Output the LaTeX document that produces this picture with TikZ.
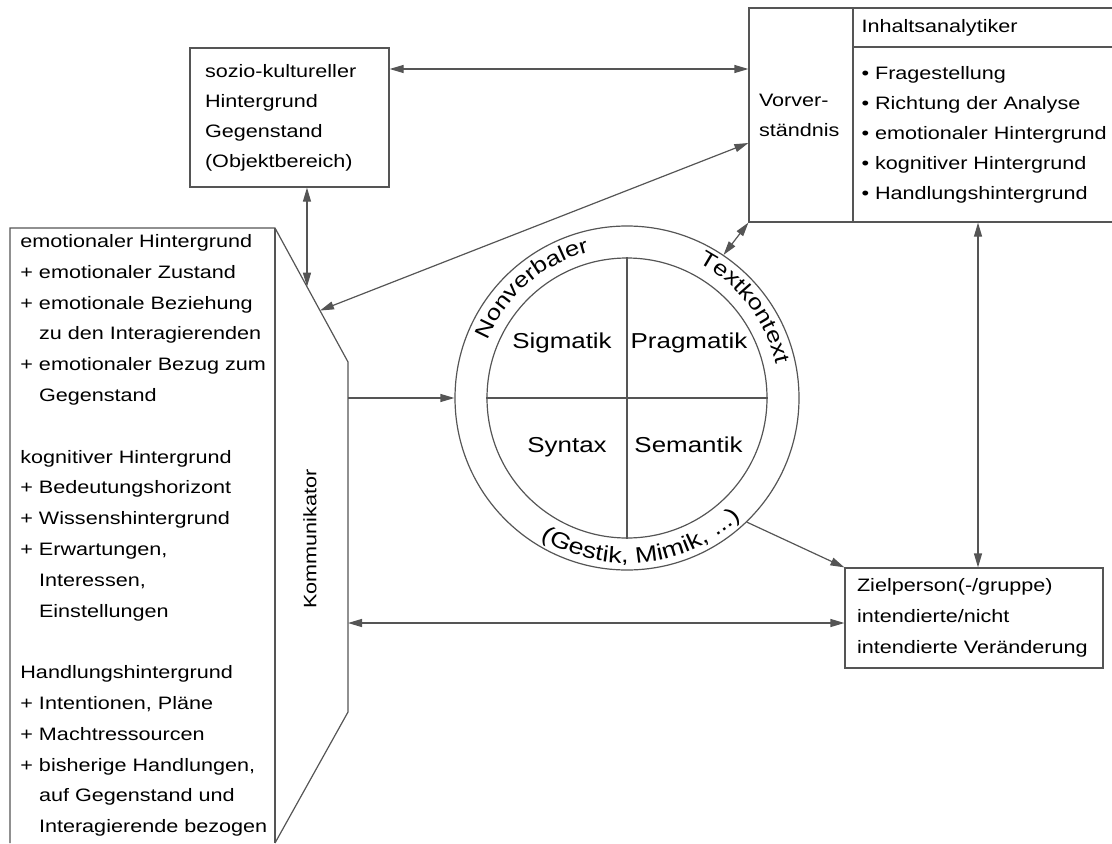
\documentclass[tikz,border=0pt]{standalone}
\usepackage{fontspec}
\setmainfont{Liberation Sans}[FakeStretch=1.2]
\usetikzlibrary{positioning,arrows.meta,calc,decorations.text}
\definecolor{liniengrau}{HTML}{555555}
\newcommand\weiter{\hphantom{+}\ }
\newcommand\bogenschrift{\fontsize{10.7}{12}\selectfont}
\newcommand\bogenunten{\fontsize{11.2}{12}\selectfont}

\begin{document}
\begin{tikzpicture}[x=0.5pt, y=0.5pt, >={Triangle[length=7pt,width=4pt]},
    linie/.style={draw=liniengrau, line width=0.6pt},
    kasten/.style={linie, rectangle, inner sep=0pt, align=left,
      font=\fontsize{9}{15}\selectfont},
    pfeil/.style={linie, ->},
    doppelpfeil/.style={linie, <->},
    feld/.style={anchor=base, font=\fontsize{10.8}{13}\selectfont},
    ring/.style={decorate, decoration={text along path, text align=center,
      text={#1}}}]
  \useasboundingbox (0,0) rectangle (1112,843);

  % Kommunikator
  \coordinate (ko1) at (10,0);
  \coordinate (ko2) at (10,615);
  \coordinate (ko3) at (275,615);
  \coordinate (ko4) at (348,481);
  \coordinate (ko5) at (348,131);
  \coordinate (ko6) at (275,0);
  \draw[linie] (ko1) -- (ko2) -- (ko3) -- (ko4) -- (ko5) -- (ko6);
  \draw[linie] (ko3) -- (ko6);
  \node (hinter) [anchor=north west, inner sep=0pt, text width=132pt,
                  align=left, font=\fontsize{9}{15.4}\selectfont]
    at (20,609)
    {emotionaler Hintergrund\\
     + emotionaler Zustand\\
     + emotionale Beziehung\\
     \weiter zu den Interagierenden\\
     + emotionaler Bezug zum\\
     \weiter Gegenstand\\[15.4pt]
     kognitiver Hintergrund\\
     + Bedeutungshorizont\\
     + Wissenshintergrund\\
     + Erwartungen,\\
     \weiter Interessen,\\
     \weiter Einstellungen\\[15.4pt]
     Handlungshintergrund\\
     + Intentionen, Pläne\\
     + Machtressourcen\\
     + bisherige Handlungen,\\
     \weiter auf Gegenstand und\\
     \weiter Interagierende bezogen};
  \node (komm) [rotate=90, font=\fontsize{9}{11}\selectfont] at (310,304)
    {Kommunikator};

  % Kaesten oben und rechts
  \node (sozio) [kasten, minimum width=99.5pt, minimum height=69.5pt,
                 text width=84.5pt, inner xsep=7.5pt] at (289.5,725.5)
    {sozio-kultureller\\Hintergrund\\Gegenstand\\(Objektbereich)};
  \node (vorv) [kasten, minimum width=52pt, minimum height=107pt,
                text width=42pt, inner xsep=5pt] at (801,728)
    {Vorver-\\ständnis};
  \node (kopf) [kasten, minimum width=133.5pt, minimum height=19.5pt,
                text width=125pt, inner xsep=4.25pt] at (986.5,815.5)
    {Inhaltsanalytiker};
  \node (liste) [kasten, minimum width=133.5pt, minimum height=87.5pt,
                 text width=125pt, inner xsep=4.25pt] at (986.5,708.5)
    {\textbullet\ Fragestellung\\
     \textbullet\ Richtung der Analyse\\
     \textbullet\ emotionaler Hintergrund\\
     \textbullet\ kognitiver Hintergrund\\
     \textbullet\ Handlungshintergrund\\[3pt]};
  \node (ziel) [kasten, minimum width=129pt, minimum height=50pt,
                text width=117pt, font=\fontsize{9}{15.5}\selectfont]
    at (974,225)
    {Zielperson(-/gruppe)\\intendierte/nicht\\intendierte Veränderung};

  % Kreis mit vier Feldern
  \node (kreis) [circle, linie, minimum size=172pt, inner sep=0pt]
    at (627,445) {};
  \node (innen) [circle, linie, minimum size=140pt, inner sep=0pt]
    at (kreis.center) {};
  \draw[linie] (innen.north) -- (innen.south);
  \draw[linie] (innen.west) -- (innen.east);
  \node (sigmatik) [feld] at (562,494.5) {Sigmatik};
  \node (pragmatik) [feld] at (689,494.5) {Pragmatik};
  \node (syntax) [feld] at (567,390.5) {Syntax};
  \node (semantik) [feld] at (688.5,390.5) {Semantik};
  \path[ring={|\bogenschrift|Nonverbaler}]
    ($(kreis.center)+(176:75.5pt)$) arc[start angle=176, end angle=86,
    radius=75.5pt];
  \path[ring={|\bogenschrift|Textkontext}]
    ($(kreis.center)+(82.5:76.5pt)$) arc[start angle=82.5, end angle=-7.5,
    radius=76.5pt];
  \path[ring={|\bogenunten|(Gestik, Mimik, ...)}]
    ($(kreis.center)+(226:82.5pt)$) arc[start angle=226, end angle=326,
    radius=82.5pt];

  % Verbindungen
  \coordinate (kd1) at ($(ko3)!0.438!(ko4)$);
  \coordinate (kd2) at ($(ko3)!0.616!(ko4)$);
  \coordinate (kk1) at (348,445);
  \coordinate (kk2) at (348,220);
  \draw[doppelpfeil] ([yshift=24.25pt]sozio.east)
    -- ([yshift=24.25pt]sozio.east -| vorv.west);
  \draw[doppelpfeil] (kd1 |- sozio.south) -- (kd1);
  \draw[doppelpfeil] ([yshift=-14pt]vorv.west) -- (kd2);
  \draw[pfeil] (kk1) -- (kreis.west);
  \draw[doppelpfeil] (vorv.south west) -- (kreis.56);
  \draw[pfeil] (kreis.-46) -- (ziel.north west);
  \draw[doppelpfeil] ([xshift=-4.25pt]liste.south)
    -- ([xshift=-4.25pt]liste.south |- ziel.north);
  \draw[doppelpfeil] (kk2) -- (kk2 -| ziel.west);
\end{tikzpicture}
\end{document}
